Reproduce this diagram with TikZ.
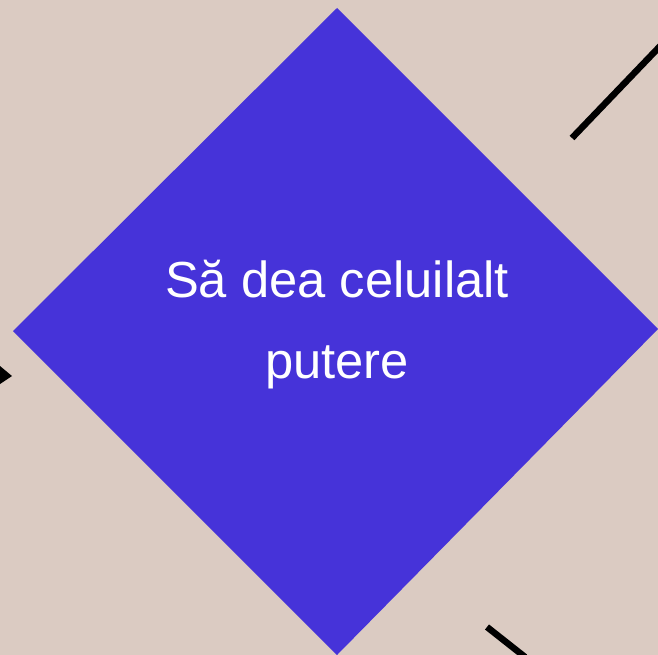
\documentclass[tikz,border=0pt]{standalone}
\usepackage{fontspec}
\setmainfont{Liberation Sans}
\usetikzlibrary{shapes.geometric}
\definecolor{bgc}{RGB}{219,203,194}
\definecolor{dia}{RGB}{70,51,217}
\tikzset{
  conn/.style={line width=6.5pt, black},
  lbl/.style={text=white, font=\fontsize{50.7}{60}\selectfont, anchor=base, inner sep=0pt}
}
\begin{document}
\begin{tikzpicture}[x=1pt,y=-1pt]
\useasboundingbox (0,0) rectangle (658,655);
\fill[bgc] (0,0) rectangle (658,655);
\clip (0,0) rectangle (658,655);
% diamond
\fill[dia] (337,8) coordinate (top) -- (658,329) coordinate (right) -- (337,655) coordinate (bottom) -- (13,331) coordinate (left) -- cycle;
\node[lbl] (l1) at (337,297) {Să dea celuilalt};
\node[lbl] (l2) at (337,378) {putere};
% connectors
\coordinate (a1) at (572,138);
\coordinate (a2) at (665,41);
\draw[conn] (a1) -- (a2);
\coordinate (b1) at (487,627);
\coordinate (b2) at (525,657);
\draw[conn] (b1) -- (b2);
\coordinate (tip) at (12,376);
\fill[black] (-6,361) -- (tip) -- (-6,388) -- cycle;
\end{tikzpicture}
\end{document}
